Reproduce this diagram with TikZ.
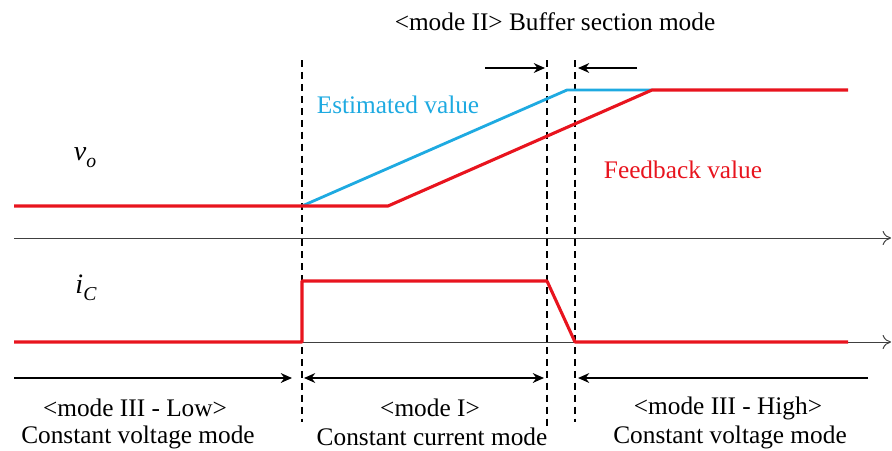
\documentclass[tikz,border=0pt]{standalone}
\usepackage{fontspec}
\setmainfont{Liberation Serif}
\usetikzlibrary{arrows.meta,positioning,calc}
\definecolor{fbred}{RGB}{232,20,30}
\definecolor{estblue}{RGB}{30,170,225}

\begin{document}
\begin{tikzpicture}[
    x=0.025cm, y=-0.025cm,
    lbl/.style={font=\fontsize{18}{21}\selectfont, inner sep=0pt},
    axis/.style={-{To[length=6pt,width=10pt]}, line width=0.7pt, black!75},
    sig/.style={line width=2.2pt, fbred, line join=round},
    est/.style={line width=2pt, estblue, line join=round},
    bound/.style={line width=1pt, dash pattern=on 5pt off 3.5pt},
    arrow/.style={-{Stealth[length=8pt,width=7pt]}, line width=1pt},
    dblarrow/.style={{Stealth[length=8pt,width=7pt]}-{Stealth[length=8pt,width=7pt]}, line width=1pt},
]
\useasboundingbox (0,0) rectangle (892,450);

% Mode boundaries
\coordinate (b1top) at (302,60);  \coordinate (b1bot) at (302,422);
\coordinate (b2top) at (547,60);  \coordinate (b2bot) at (547,428);
\coordinate (b3top) at (575,60);  \coordinate (b3bot) at (575,422);
\draw[bound] (b1top) -- (b1bot);
\draw[bound] (b2top) -- (b2bot);
\draw[bound] (b3top) -- (b3bot);

% Time axes
\coordinate (ax1l) at (14,238);  \coordinate (ax1r) at (891,238);
\coordinate (ax2l) at (14,342);  \coordinate (ax2r) at (891,342);
\draw[axis] (ax1l) -- (ax1r);
\draw[axis] (ax2l) -- (ax2r);

% Output voltage: estimated and feedback values
\coordinate (vstart) at (14,206);
\coordinate (vstep) at (302,206);
\coordinate (vramp) at (388,206);
\coordinate (vestop) at (567,90);
\coordinate (vtop) at (652,90);
\coordinate (vend) at (848,90);
\draw[est] (vstep) -- (vestop) -- (vtop);
\draw[sig] (vstart) -- (vramp) -- (vtop) -- (vend);

% Capacitor current
\coordinate (istart) at (14,342);
\coordinate (ilow1) at (302,342);
\coordinate (ihigh1) at (302,281);
\coordinate (ihigh2) at (547,281);
\coordinate (ilow2) at (575,342);
\coordinate (iend) at (848,342);
\draw[sig] (istart) -- (ilow1) -- (ihigh1) -- (ihigh2) -- (ilow2) -- (iend);

% Signal labels
\node[lbl] (vo) at (85,158) {\fontsize{20}{22}\selectfont\textit{v}\raisebox{-0.55ex}{\fontsize{14}{16}\selectfont\textit{o}}};
\node[lbl] (ic) at (86,288) {\fontsize{20}{22}\selectfont\textit{i}\raisebox{-0.55ex}{\fontsize{14}{16}\selectfont\textit{C}}};
\node[lbl, text=estblue] (estlbl) at (398,105) {Estimated value};
\node[lbl, text=fbred] (fblbl) at (683,170) {Feedback value};

% Buffer section
\node[lbl] (buflbl) at (555,22) {<mode II> Buffer section mode};
\coordinate (bufl) at (485,68);
\coordinate (bufr) at (637,68);
\draw[arrow] (bufl) -- ($(b2top |- bufl)+(-2,0)$);
\draw[arrow] (bufr) -- ($(b3top |- bufr)+(3,0)$);

% Mode spans
\coordinate (spl) at (14,378);
\coordinate (spr) at (868,378);
\draw[arrow] (spl) -- ($(b1top |- spl)+(-10,0)$);
\draw[dblarrow] ($(b1top |- spl)+(2,0)$) -- ($(b2top |- spl)+(-3,0)$);
\draw[arrow] (spr) -- ($(b3top |- spr)+(3,0)$);

\node[lbl] (m3low) at (135,408) {<mode III - Low>};
\node[lbl] (cv1) at (138,437) {Constant voltage mode};
\node[lbl] (m1) at (430,408) {<mode I>};
\node[lbl] (cc) at (432,437) {Constant current mode};
\node[lbl] (m3high) at (728,408) {<mode III - High>};
\node[lbl] (cv2) at (730,437) {Constant voltage mode};

\end{tikzpicture}
\end{document}
